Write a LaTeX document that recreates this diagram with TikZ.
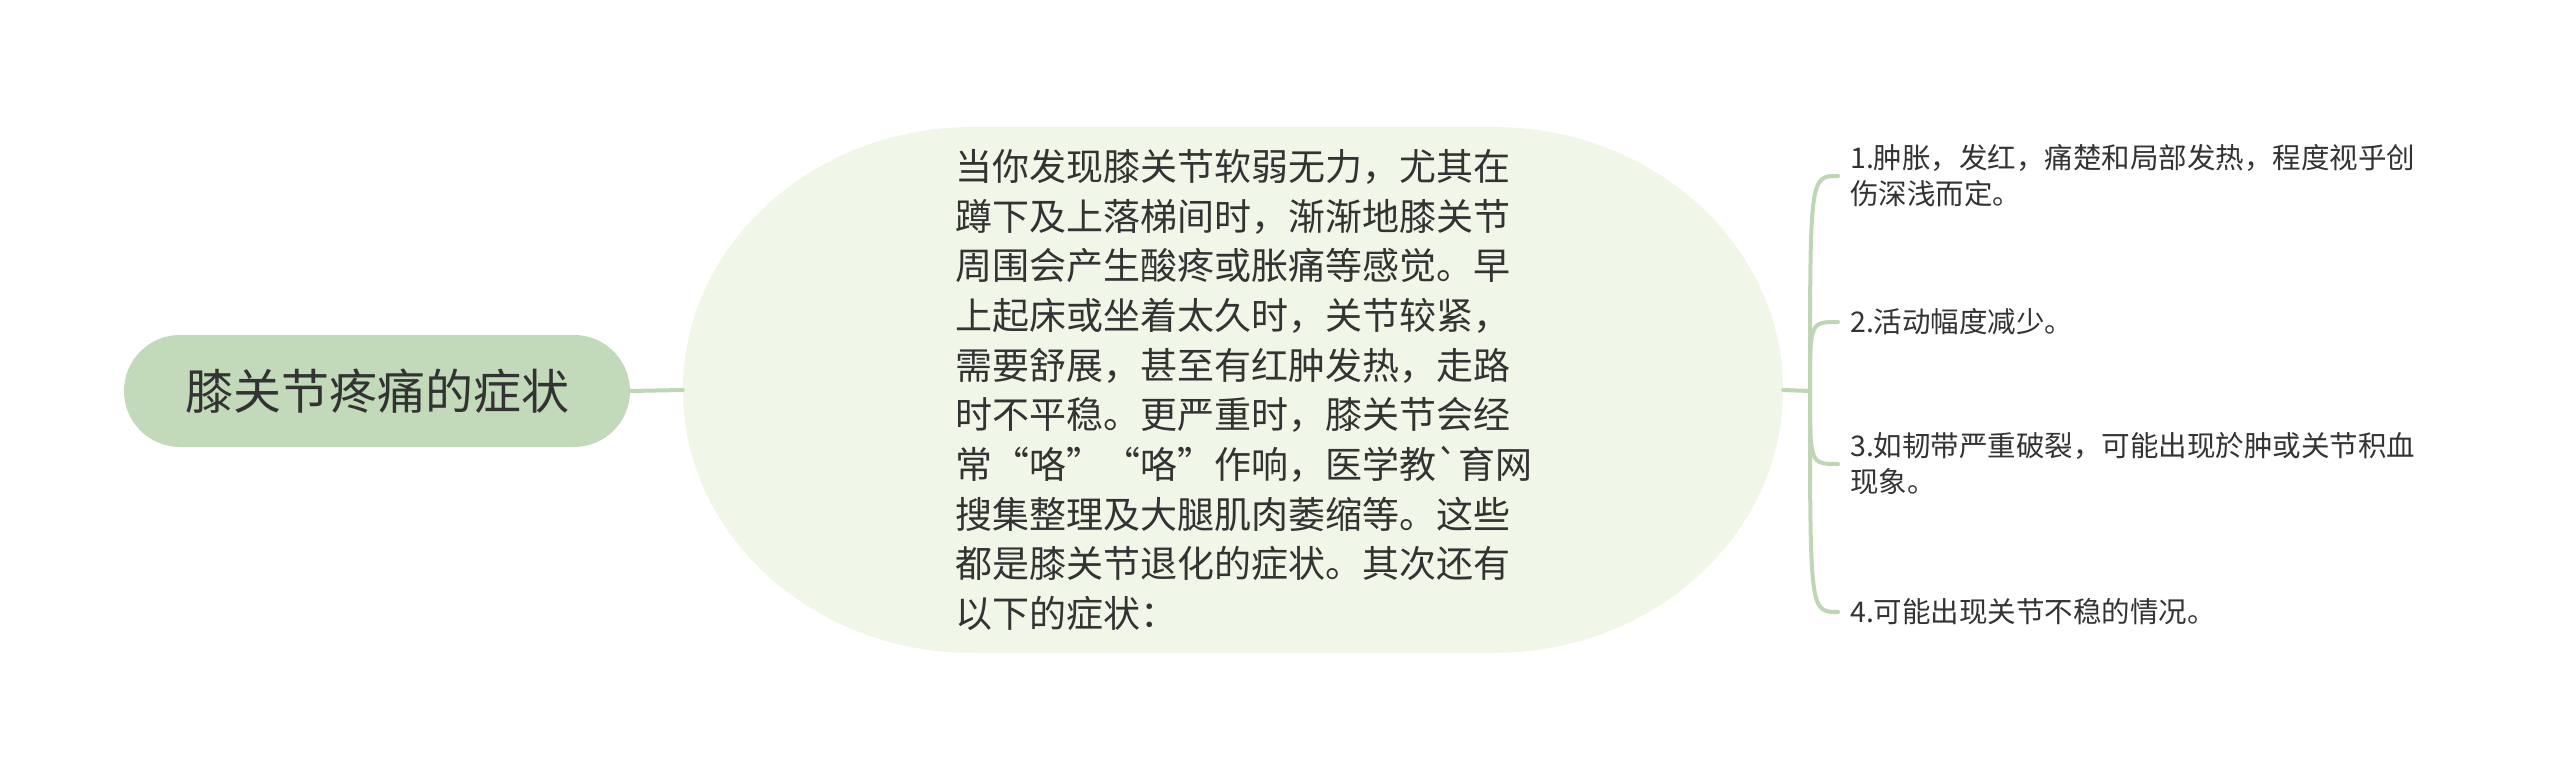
\documentclass[tikz,border=0pt]{standalone}
\usepackage{fontspec}
\newfontfamily\cjk{Noto Sans CJK SC}
\definecolor{rootfill}{HTML}{C2DAB9}
\definecolor{bigfill}{HTML}{F0F6E8}
\definecolor{connc}{HTML}{BDD7B4}
\definecolor{textc}{HTML}{333333}
\tikzset{
  rootbox/.style={rounded corners=56pt, minimum width=506pt, minimum height=112pt,
    fill=rootfill, inner sep=0pt, text=textc, font=\cjk\fontsize{48}{56}\selectfont},
  bignode/.style={minimum width=1100pt, minimum height=526pt, text width=556pt,
    align=left, inner sep=0pt, text=textc, font=\cjk\fontsize{37}{49.7}\selectfont},
  leafnode/.style={anchor=west, align=left, inner xsep=12pt, inner ysep=0pt,
    text=textc, font=\cjk\fontsize{28.5}{36}\selectfont},
  conn/.style={draw=connc, line width=4pt, line cap=round}
}
\begin{document}
\begin{tikzpicture}[x=1pt,y=-1pt]
\fill[white] (0,0) rectangle (2560,778);
\useasboundingbox (0,0) rectangle (2560,778);
% background of the central topic
\fill[bigfill] (973,127) -- (1493,127)
  arc[start angle=-90, end angle=90, x radius=290, y radius=263]
  -- (973,653)
  arc[start angle=90, end angle=270, x radius=290, y radius=263] -- cycle;
\node[rootbox] (root) at (377,391) {膝关节疼痛的症状};
\node[bignode] (big) at (1233,390) {当你发现膝关节软弱无力，尤其在\\蹲下及上落梯间时，渐渐地膝关节\\周围会产生酸疼或胀痛等感觉。早\\上起床或坐着太久时，关节较紧，\\需要舒展，甚至有红肿发热，走路\\时不平稳。更严重时，膝关节会经\\常“咯”“咯”作响，医学教`育网\\搜集整理及大腿肌肉萎缩等。这些\\都是膝关节退化的症状。其次还有\\以下的症状：};
\node[leafnode] (l1) at (1838,176) {1.肿胀，发红，痛楚和局部发热，程度视乎创\\伤深浅而定。};
\node[leafnode] (l2) at (1838,322) {2.活动幅度减少。};
\node[leafnode] (l3) at (1838,464) {3.如韧带严重破裂，可能出现於肿或关节积血\\现象。};
\node[leafnode] (l4) at (1838,612) {4.可能出现关节不稳的情况。};
\coordinate (jn) at (1810,391);
\draw[conn] (root.east) -- (big.west);
\draw[conn] (big.east) -- (jn);
\foreach \l in {l1,l2,l3,l4}{
  \draw[conn] (jn) .. controls (jn |- \l.west) .. (\l.west);
}
\end{tikzpicture}
\end{document}
